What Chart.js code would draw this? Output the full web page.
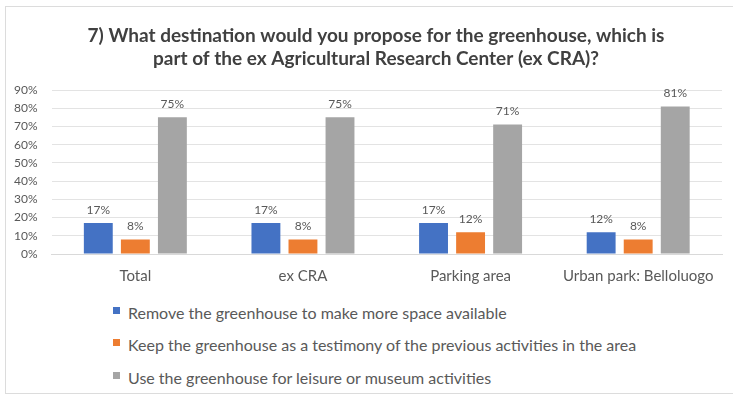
<!DOCTYPE html>
<html>
<head>
<meta charset="utf-8">
<script src="https://cdn.jsdelivr.net/npm/chart.js@4/dist/chart.umd.min.js"></script>
<style>
  html, body { margin: 0; padding: 0; background: #fff; }
  #frame { position: absolute; left: 5px; top: 6px; width: 740px; height: 388px; border: 1px solid #dcdcdc; box-sizing: border-box; }
  #wrap { position: absolute; left: 0; top: 0; width: 733px; height: 290px; }
  #legend { position: absolute; left: 113px; top: 296px; font-family: Lato, "Open Sans", sans-serif; font-size: 16px; color: #595959; }
  #legend div { height: 32.5px; display: flex; align-items: center; }
  #legend span.sw { display: inline-block; width: 7px; height: 7px; margin-right: 8px; margin-top: -4px; }
</style>
</head>
<body>
<div id="frame"></div>
<div id="wrap"><canvas id="c"></canvas></div>
<div id="legend"></div>
<script>
const categories = ["Total", "ex CRA", "Parking area", "Urban park: Belloluogo"];
const removeValues = [17, 17, 17, 12];
const keepValues = [8, 8, 12, 8];
const leisureValues = [75, 75, 71, 81];
const seriesNames = [
  "Remove the greenhouse to make more space available",
  "Keep the greenhouse as a testimony of the previous activities in the area",
  "Use the greenhouse for leisure or museum activities"
];
const seriesColors = ["#4472C4", "#ED7D31", "#A5A5A5"];
const titleLines = [
  "7) What destination would you propose for the greenhouse, which is",
  "part of the ex Agricultural Research Center (ex CRA)?"
];

const FONT = 'Lato, "Open Sans", sans-serif';

// Two-line heading, centred over the framed panel
const heading = {
  id: 'heading',
  afterDraw(chart) {
    const ctx = chart.ctx;
    ctx.save();
    ctx.font = 'bold 19px ' + FONT;
    ctx.fillStyle = '#404040';
    ctx.textAlign = 'center';
    ctx.textBaseline = 'alphabetic';
    titleLines.forEach((line, i) => ctx.fillText(line, 376, 42 + i * 23));
    ctx.restore();
  }
};

// Percent labels above each bar
const valueLabels = {
  id: 'valueLabels',
  afterDatasetsDraw(chart) {
    const ctx = chart.ctx;
    ctx.save();
    ctx.font = '12px ' + FONT;
    ctx.fillStyle = '#595959';
    ctx.textAlign = 'center';
    ctx.textBaseline = 'middle';
    chart.data.datasets.forEach((ds, i) => {
      chart.getDatasetMeta(i).data.forEach((bar, j) => {
        ctx.fillText(ds.data[j] + '%', bar.x, bar.y - 13);
      });
    });
    ctx.restore();
  }
};

const chart = new Chart(document.getElementById('c'), {
  type: 'bar',
  data: {
    labels: categories,
    datasets: [
      { label: seriesNames[0], data: removeValues, backgroundColor: seriesColors[0] },
      { label: seriesNames[1], data: keepValues, backgroundColor: seriesColors[1] },
      { label: seriesNames[2], data: leisureValues, backgroundColor: seriesColors[2] }
    ]
  },
  options: {
    responsive: true,
    maintainAspectRatio: false,
    animation: false,
    categoryPercentage: 0.663,
    barPercentage: 0.78,
    layout: { padding: { left: 0, right: 11, top: 90, bottom: 0 } },
    plugins: {
      legend: { display: false },
      tooltip: { enabled: false },
      title: { display: false }
    },
    scales: {
      x: {
        grid: { display: false },
        border: { color: '#d9d9d9' },
        ticks: { color: '#595959', font: { family: FONT, size: 15 }, padding: 5 }
      },
      y: {
        min: 0, max: 90,
        ticks: { stepSize: 10, color: '#595959', font: { family: FONT, size: 12 }, padding: 14,
                 callback: v => v + '%' },
        grid: { color: '#e3e3e3', drawTicks: false },
        border: { display: false }
      }
    }
  },
  plugins: [valueLabels, heading]
});

// Stacked legend under the chart
const legend = document.getElementById('legend');
seriesNames.forEach((name, i) => {
  const row = document.createElement('div');
  const sw = document.createElement('span');
  sw.className = 'sw';
  sw.style.background = seriesColors[i];
  row.appendChild(sw);
  row.appendChild(document.createTextNode(name));
  legend.appendChild(row);
});
</script>
</body>
</html>
